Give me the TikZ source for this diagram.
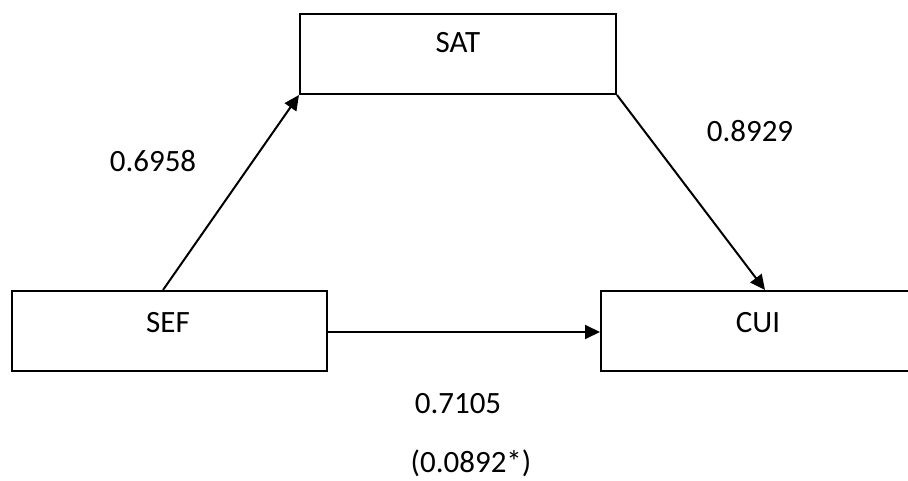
\documentclass[tikz,border=0pt]{standalone}
\usepackage{fontspec}
\setmainfont{Carlito}
\usetikzlibrary{arrows.meta}

\tikzset{
  varbox/.style={draw=black, line width=2pt, rectangle, inner sep=0pt,
                 minimum width=#1, minimum height=80pt},
  varbox/.default=316pt,
  txt/.style={font=\fontsize{31}{36}\selectfont, inner sep=0pt, anchor=base},
  path/.style={draw=black, line width=2pt,
               -{Triangle[length=15pt,width=14pt]}},
}

\begin{document}
\begin{tikzpicture}[x=1pt, y=-1pt]
  \useasboundingbox (0,0) rectangle (908,481);
  \clip (0,0) rectangle (908,481);

  % variable boxes
  \node[varbox=316pt] (sat) at (458,54) {};
  \node[varbox=315pt] (sef) at (169.5,331) {};
  \node[varbox=314pt] (cui) at (758,331) {};

  % box captions
  \node[txt] (satlbl) at (458,53) {SAT};
  \node[txt] (seflbl) at (168,332) {SEF};
  \node[txt] (cuilbl) at (758,332) {CUI};

  % paths between variables
  \draw[path] ([xshift=-6.5pt]sef.north) -- (sat.south west);
  \draw[path] (sat.south east) -- ([xshift=7pt]cui.north);
  \draw[path] ([yshift=-1pt]sef.east) -- ([yshift=-1pt]sef.east -| cui.west);

  % path coefficients
  \node[txt] (ca) at (153,172) {0.6958};
  \node[txt] (cb) at (750,142) {0.8929};
  \node[txt] (cc) at (458,413) {0.7105};
  \node[txt] (cd) at (471,472) {(0.0892*)};
\end{tikzpicture}
\end{document}
